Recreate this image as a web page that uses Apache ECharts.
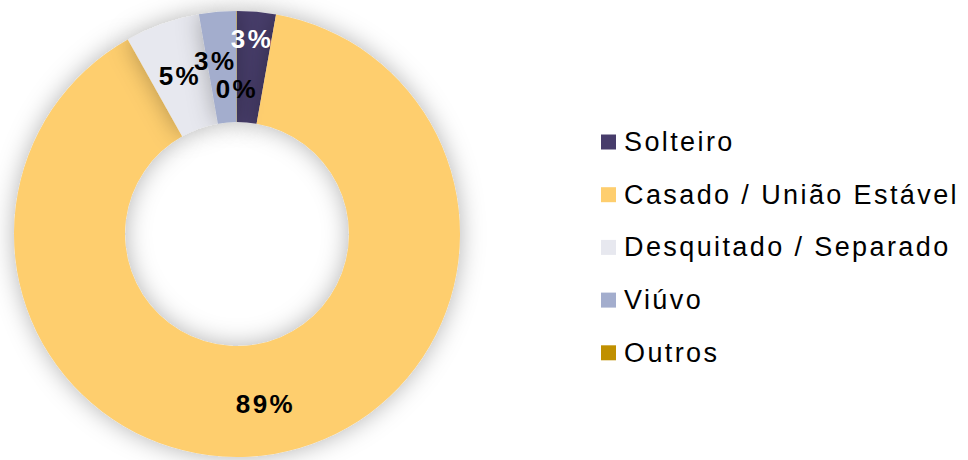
<!DOCTYPE html>
<html>
<head>
<meta charset="utf-8">
<script src="https://cdn.jsdelivr.net/npm/echarts@6/dist/echarts.min.js"></script>
<style>
  html, body { margin: 0; padding: 0; background: #fff; }
  #chart { width: 968px; height: 460px; }
  #chart text { letter-spacing: 2.4px; }
</style>
</head>
<body>
<div id="chart"></div>
<script>
// estado civil
var categories = ['Solteiro', 'Casado / União Estável', 'Desquitado / Separado', 'Viúvo', 'Outros']
var values = [2.8, 89.0, 5.4, 2.7, 0.03]
var colors = ['#473c6b', '#fece6e', '#e7e8ef', '#a3adcd', '#c09000']
// ajuste manual dos rótulos sobrepostos
var labelOffsets = [[0, -25], [0, 2], [0, 3], [-7, -3], [0, 25]]
var labelColors = ['#fff', '#000', '#000', '#000', '#000']

var chart = echarts.init(document.getElementById('chart'), null, { renderer: 'svg' })

var data = categories.map(function (name, i) {
  return {
    name: name,
    value: values[i],
    itemStyle: { color: colors[i] },
    label: { offset: labelOffsets[i], color: labelColors[i] }
  }
})

chart.setOption({
  animation: false,
  legend: {
    orient: 'vertical',
    left: 601,
    top: 127,
    padding: 0,
    itemWidth: 15,
    itemHeight: 15,
    itemGap: 22.7,
    icon: 'rect',
    data: categories,
    textStyle: {
      fontFamily: 'Liberation Sans',
      fontSize: 27,
      lineHeight: 30,
      color: '#000',
      padding: [0, 0, 0, 3]
    }
  },
  series: [
    {
      type: 'pie',
      center: [237, 234],
      radius: [112, 223],
      startAngle: 90,
      clockwise: true,
      avoidLabelOverlap: false,
      labelLayout: { hideOverlap: false },
      label: {
        show: true,
        position: 'inside',
        overflow: 'none',
        fontFamily: 'Liberation Sans',
        fontWeight: 'bold',
        fontSize: 26,
        formatter: function (p) {
          return Math.round(p.value) + '%'
        }
      },
      labelLine: { show: false },
      itemStyle: {
        shadowBlur: 24,
        shadowColor: 'rgba(0, 0, 0, 0.3)'
      },
      emphasis: { disabled: true },
      data: data
    }
  ]
})
</script>
</body>
</html>
